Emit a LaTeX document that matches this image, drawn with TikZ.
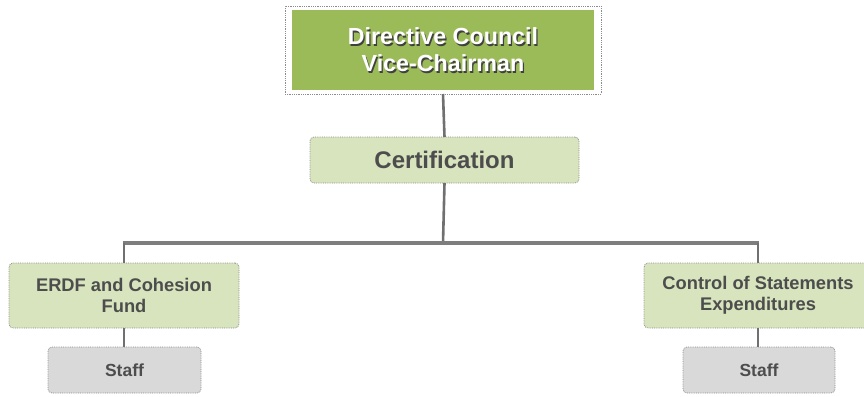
\documentclass[tikz,border=0pt]{standalone}
\usepackage{fontspec}
\setmainfont{Liberation Sans}
\definecolor{headgreen}{HTML}{9BBB59}
\definecolor{palegreen}{HTML}{D7E4BD}
\definecolor{palegray}{HTML}{D9D9D9}
\definecolor{inkgray}{HTML}{4D4D4D}
\definecolor{edgegray}{HTML}{8C8C8C}
\definecolor{linkgray}{HTML}{707070}
\tikzset{
  box/.style={rectangle, rounded corners=4pt, draw=edgegray, line width=0.8pt,
    densely dotted, inner sep=0pt, outer sep=0pt, align=center,
    text=inkgray, font=\bfseries},
  unitbox/.style={box, fill=palegreen, minimum width=230pt, minimum height=65pt,
    font=\fontsize{18.3}{20.5}\selectfont\bfseries},
  staffbox/.style={box, fill=palegray, minimum width=153pt, minimum height=46pt,
    font=\fontsize{17.5}{20}\selectfont\bfseries},
  headframe/.style={rectangle, draw=edgegray, line width=0.8pt, densely dotted,
    fill=white, inner sep=0pt, outer sep=0pt, minimum width=316pt, minimum height=88pt},
  headfill/.style={rectangle, fill=headgreen, inner sep=0pt, outer sep=0pt,
    minimum width=302pt, minimum height=80pt},
  headtext/.style={align=center, inner sep=0pt, font=\fontsize{23.3}{27}\selectfont\bfseries},
  link/.style={draw=linkgray, line width=2.6pt},
  busline/.style={draw=linkgray!90, line width=4pt},
}
\begin{document}
\begin{tikzpicture}[x=1pt,y=-1pt]
\useasboundingbox (0,0) rectangle (864,396);
\clip (0,0) rectangle (864,396);

% head of the chart
\node[headframe] (headframe) at (443,50) {};
\node[headfill] (head) at (443,50) {};
\node[headtext, text=black!75] (headshadow) at (444.3,51.3) {Directive Council\\Vice-Chairman};
\node[headtext, text=white] (headlabel) at (443,50) {Directive Council\\Vice-Chairman};

% second level
\node[box, fill=palegreen, minimum width=269pt, minimum height=46pt,
  font=\fontsize{24}{28}\selectfont\bfseries] (cert) at (444.5,160) {Certification};

% units
\node[unitbox] (erdf) at (124,295.5) {ERDF and Cohesion\\Fund};
\node[unitbox, minimum width=228pt] (ctrl) at (758,295.5) {Control of Statements\\Expenditures};

% staff
\node[staffbox] (staffa) at (124.5,370) {Staff};
\node[staffbox, minimum width=152pt] (staffb) at (759,370) {Staff};

% connectors
\coordinate (bus) at (443,243);
\path[link] (headframe.south) -- (cert.north);
\path[link] (cert.south) -- (bus);
\path[busline] ([xshift=-1.3pt]erdf.north |- bus) -- ([xshift=1.3pt]ctrl.north |- bus);
\path[link] (erdf.north |- bus) -- (erdf.north);
\path[link] (ctrl.north |- bus) -- (ctrl.north);
\path[link] (erdf.south) -- (staffa.north -| erdf.south);
\path[link] (ctrl.south) -- (staffb.north -| ctrl.south);
\end{tikzpicture}
\end{document}
